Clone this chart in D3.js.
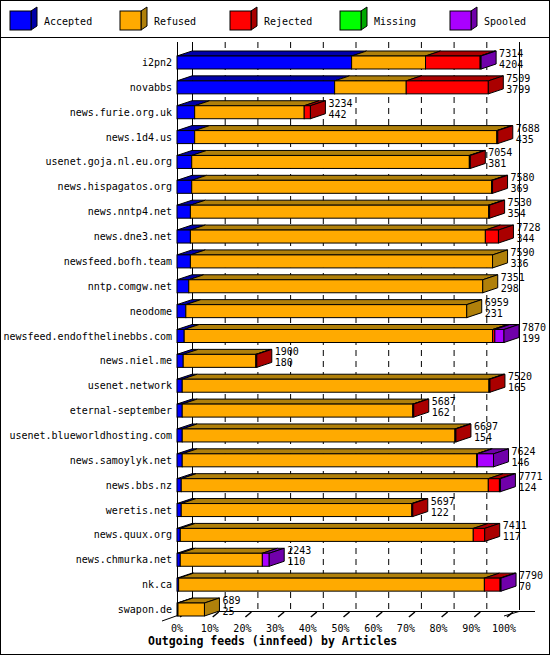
<!DOCTYPE html>
<html>
<head>
<meta charset="utf-8">
<script src="https://d3js.org/d3.v7.min.js"></script>
<style>
  body { margin: 0; background: #fff; }
  text { font-family: "DejaVu Sans Mono", monospace; font-size: 10px; }
</style>
</head>
<body>
<svg id="chart" width="550" height="655"></svg>
<script>
  // feeds, top to bottom
  const hosts = ["i2pn2", "novabbs", "news.furie.org.uk", "news.1d4.us", "usenet.goja.nl.eu.org",
    "news.hispagatos.org", "news.nntp4.net", "news.dne3.net", "newsfeed.bofh.team", "nntp.comgw.net",
    "neodome", "newsfeed.endofthelinebbs.com", "news.niel.me", "usenet.network", "eternal-september",
    "usenet.blueworldhosting.com", "news.samoylyk.net", "news.bbs.nz", "weretis.net", "news.quux.org",
    "news.chmurka.net", "nk.ca", "swapon.de"];
  // segment widths in percent
  const accepted = [53.4, 48.2, 5.4, 5.4, 4.5, 4.5, 4.1, 4.1, 4.1, 3.6, 2.7, 2.2, 1.9, 1.6, 1.6, 1.6, 1.6, 1.3, 1.3, 1.0, 1.0, 0.5, 0.3];
  const refused  = [22.6, 21.9, 33.5, 92.4, 84.9, 91.7, 91.2, 90.2, 92.4, 89.9, 85.9, 94.3, 22.2, 93.8, 70.5, 83.4, 90.0, 93.9, 70.5, 89.6, 25.1, 93.5, 8.1];
  const rejected = [16.7, 25.1, 1.9, 0.3, 0.3, 0.3, 0.3, 4.0, 0, 0, 0, 0.7, 0.3, 0.3, 0.3, 0.3, 0.3, 3.4, 0.3, 3.5, 0, 4.8, 0];
  const missing  = [0, 0, 0, 0, 0, 0, 0, 0, 0, 0, 0, 0, 0, 0, 0, 0, 0, 0, 0, 0, 0, 0, 0];
  const spooled  = [0.3, 0, 0, 0, 0, 0, 0, 0, 0, 0, 0, 2.8, 0, 0, 0, 0, 4.9, 0.3, 0, 0, 2.1, 0.3, 0];
  const totals   = [7314, 7509, 3234, 7688, 7054, 7580, 7530, 7728, 7590, 7351, 6959, 7870, 1900, 7520, 5687, 6697, 7624, 7771, 5697, 7411, 2243, 7790, 689];
  const acceptedCounts = [4204, 3799, 442, 435, 381, 369, 354, 344, 336, 298, 231, 199, 180, 165, 162, 154, 146, 124, 122, 117, 110, 70, 25];
  const ticks = [0, 10, 20, 30, 40, 50, 60, 70, 80, 90, 100];

  const seriesNames = ["Accepted", "Refused", "Rejected", "Missing", "Spooled"];
  const front = ["#0000ff", "#ffaa00", "#ff0000", "#00ff00", "#aa00ff"];
  const dark  = ["#0000aa", "#b0800a", "#aa0000", "#00aa00", "#7000aa"];
  const series = [accepted, refused, rejected, missing, spooled];

  const dx = 15, dy = 5, bh = 13;
  const svg = d3.select("#chart");
  const x = d3.scaleLinear().domain([0, 100]).range([177, 504]);
  const y = d3.scalePoint().domain(hosts).range([56, 603]);

  // frame
  svg.append("rect").attr("x", 0.5).attr("y", 0.5).attr("width", 549).attr("height", 654)
    .attr("fill", "none").attr("stroke", "#000");
  svg.append("line").attr("x1", 0).attr("x2", 550).attr("y1", 37.5).attr("y2", 37.5).attr("stroke", "#000");

  // legend
  const leg = svg.append("g");
  seriesNames.forEach((s, i) => {
    const lx = 10 + i * 110, ly = 11, w = 21, h = 19, d = 6;
    leg.append("path").attr("d", `M${lx + w},${ly} l${d},${-d / 1.5} v${h} l${-d},${d / 1.5} z`)
      .attr("fill", dark[i]).attr("stroke", "#000");
    leg.append("rect").attr("x", lx).attr("y", ly).attr("width", w).attr("height", h)
      .attr("fill", front[i]).attr("stroke", "#000");
    leg.append("text").attr("x", lx + 34).attr("y", 25).text(s);
  });

  // grid
  const grid = svg.append("g");
  ticks.forEach(t => {
    grid.append("line").attr("x1", x(t) + dx + 0.5).attr("x2", x(t) + dx + 0.5)
      .attr("y1", 42).attr("y2", 610).attr("stroke", "#000")
      .attr("stroke-dasharray", t === 100 || t === 0 ? null : "6,5");
    grid.append("path").attr("d", `M${x(t) + 3},617 l6,-5`).attr("stroke", "#000").attr("stroke-width", 1.5);
    grid.append("text").attr("x", x(t)).attr("y", 632).attr("text-anchor", "middle").text(t + "%");
  });
  grid.append("line").attr("x1", 177.5).attr("x2", 177.5).attr("y1", 42).attr("y2", 616).attr("stroke", "#000");
  grid.append("path").attr("d", "M162,621 L177.5,615.5 L177.5,616 M177,611.5 H535 M519,611.5 L504,616")
    .attr("fill", "none").attr("stroke", "#000");

  // bars
  const bars = svg.append("g");
  hosts.forEach((hname, r) => {
    const top = y(hname);
    let acc = 0, last = -1, end = 0;
    series.forEach((s, k) => {
      const v = s[r];
      if (v <= 0) return;
      const x0 = x(acc), x1 = x(acc + v);
      bars.append("path").attr("d", `M${x0},${top} l${dx},${-dy} H${x1 + dx} l${-dx},${dy} z`)
        .attr("fill", dark[k]).attr("stroke", "#000");
      bars.append("rect").attr("x", x0).attr("y", top).attr("width", x1 - x0).attr("height", bh)
        .attr("fill", front[k]).attr("stroke", "#000");
      acc += v; last = k; end = x1;
    });
    bars.append("path").attr("d", `M${end},${top} l${dx},${-dy} v${bh} l${-dx},${dy} z`)
      .attr("fill", dark[last]).attr("stroke", "#000");
    bars.append("text").attr("x", 172).attr("y", top + 10).attr("text-anchor", "end").text(hname);
    bars.append("text").attr("x", end + dx + 3).attr("y", top + 1).text(totals[r]);
    bars.append("text").attr("x", end + dx + 3).attr("y", top + 12).text(acceptedCounts[r]);
  });

  svg.append("text").attr("x", 148).attr("y", 645)
    .style("font-size", "11.5px").style("font-weight", "bold")
    .text("Outgoing feeds (innfeed) by Articles");
</script>
</body>
</html>
